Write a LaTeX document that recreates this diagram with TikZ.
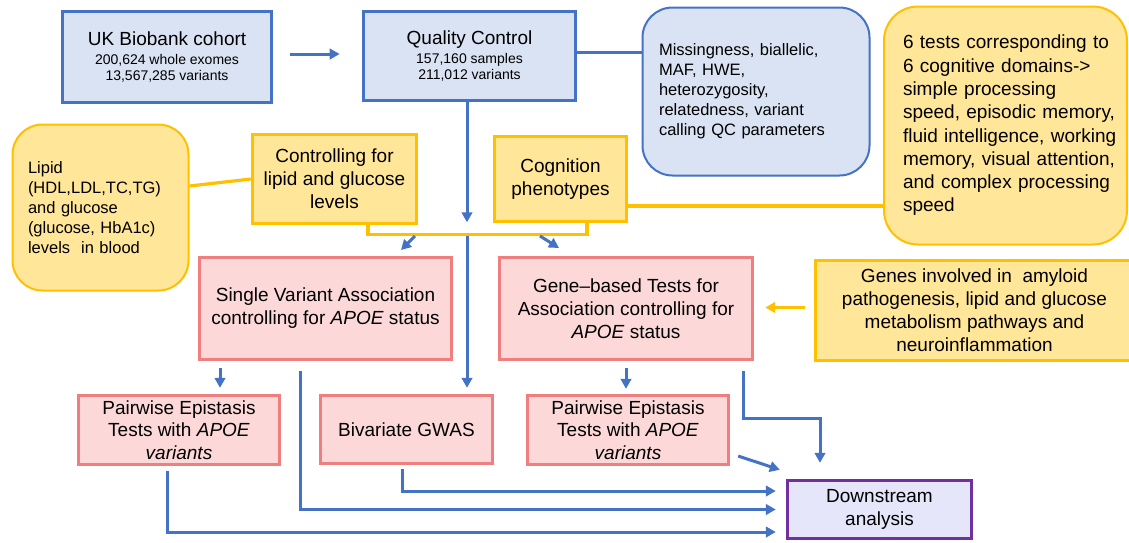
\documentclass[tikz,border=0pt]{standalone}
\usepackage{fontspec}
\setmainfont{Liberation Sans}
\usetikzlibrary{arrows.meta,calc}
\definecolor{bl}{HTML}{4472C4}
\definecolor{blfill}{HTML}{DAE3F3}
\definecolor{yl}{HTML}{FFC000}
\definecolor{yfill}{HTML}{FFE699}
\definecolor{pl}{HTML}{EE7F7E}
\definecolor{pfill}{HTML}{FCD9D8}
\definecolor{dl}{HTML}{7030A0}
\definecolor{dfill}{HTML}{E6E6FA}
\begin{document}
\begin{tikzpicture}[x=1pt,y=-1pt,
  box/.style={draw, rectangle, inner sep=0pt, align=center, font=\fontsize{19}{23}\selectfont},
  bluebox/.style={box, draw=bl, fill=blfill, line width=3.6pt},
  ybox/.style={box, draw=yl, fill=yfill, line width=3.4pt},
  pbox/.style={box, draw=pl, fill=pfill, line width=3.4pt},
  rbox/.style={draw, rectangle, rounded corners=30pt, line width=2pt, align=left, inner sep=0pt},
  arr/.style={draw=bl, line width=3pt, -{Triangle[length=10pt,width=10.5pt]}},
  bline/.style={draw=bl, line width=3pt},
  yline/.style={draw=yl, line width=3.2pt},
  yarr/.style={yline, -{Triangle[length=10pt,width=10.5pt]}},
]
\useasboundingbox (0,0) rectangle (1129,542);

% top row
\node[bluebox, minimum width=209pt, minimum height=91pt, font=\fontsize{14}{16}\selectfont] (uk) at (167,57)
  {{\fontsize{19}{20}\selectfont UK Biobank cohort}\\[3pt] 200,624 whole exomes\\ 13,567,285 variants};
\node[bluebox, minimum width=212pt, minimum height=89pt, font=\fontsize{14}{16}\selectfont] (qc) at (469.5,56)
  {{\fontsize{19}{20}\selectfont Quality Control}\\[3pt] 157,160 samples\\ 211,012 variants};
\node[rbox, draw=bl, fill=blfill, minimum width=227pt, minimum height=168pt, text width=194pt,
  font=\fontsize{16.5}{20}\selectfont] (miss) at (756,91.5)
  {Missingness, biallelic,\\ MAF, HWE,\\ heterozygosity,\\ relatedness, variant\\ calling QC parameters};
\node[rbox, draw=yl, fill=yfill, rounded corners=34pt, minimum width=243pt, minimum height=238pt, text width=205pt,
  font=\fontsize{19}{23.3}\selectfont] (cogd) at (1005.5,125.5)
  {\mbox{6 tests corresponding to}\\ \mbox{6 cognitive domains->}\\ simple processing\\ \mbox{speed, episodic memory,}\\
   \mbox{fluid intelligence, working}\\ \mbox{memory, visual attention,}\\ \mbox{and complex processing}\\ speed};

% second row
\node[rbox, draw=yl, fill=yfill, minimum width=176pt, minimum height=166pt, text width=145pt,
  font=\fontsize{16.5}{20}\selectfont] (lipid) at (100.5,207.5)
  {Lipid\\ (HDL,LDL,TC,TG)\\ and glucose\\ (glucose, HbA1c)\\ levels\ \ in blood};
\node[ybox, minimum width=164pt, minimum height=89pt] (ctrl) at (334.5,179)
  {Controlling for\\ lipid and glucose\\ levels};
\node[ybox, minimum width=132pt, minimum height=85pt] (cog) at (560.5,179)
  {Cognition\\ phenotypes};

% third row
\node[pbox, minimum width=252pt, minimum height=102pt] (sv) at (325.5,308.5)
  {Single Variant Association\\ controlling for \textit{APOE} status};
\node[pbox, minimum width=253pt, minimum height=102pt] (gb) at (626,308.5)
  {Gene–based Tests for\\ Association controlling for\\ \textit{APOE} status};
\node[ybox, minimum width=318pt, minimum height=100pt] (genes) at (974.5,310.5)
  {Genes involved in\ \ amyloid\\ pathogenesis, lipid and glucose\\ metabolism pathways and\\ neuroinflammation};

% fourth row
\node[pbox, minimum width=201pt, minimum height=69pt, font=\fontsize{19}{22.5}\selectfont] (pw1) at (179,430)
  {Pairwise Epistasis\\ Tests with \textit{APOE}\\ \textit{variants}};
\node[pbox, minimum width=172pt, minimum height=68pt] (biv) at (406.5,429.5) {Bivariate GWAS};
\node[pbox, minimum width=201pt, minimum height=69pt, font=\fontsize{19}{22.5}\selectfont] (pw2) at (628,430)
  {Pairwise Epistasis\\ Tests with \textit{APOE}\\ \textit{variants}};
\node[box, draw=dl, fill=dfill, line width=3.4pt, minimum width=184pt, minimum height=58pt] (down) at (879.5,509.5)
  {Downstream\\ analysis};

% connectors
\draw[arr, shorten <=17pt, shorten >=22pt] ([yshift=3pt]uk.east) -- ([yshift=3pt]uk.east -| qc.west);
\draw[bline] ([yshift=4pt]qc.east) -- ([yshift=4pt]qc.east -| miss.west);
\draw[arr] ([xshift=-2.5pt]qc.south) -- ++(0,120);
\coordinate (vq) at ([xshift=-2.5pt,yshift=-134pt]qc.south);
\draw[arr] (vq) -- ([yshift=6pt]vq |- biv.north);

\draw[yline] ([yshift=21.5pt]lipid.east) -- (ctrl.west);
\draw[yline] ([xshift=33.5pt]ctrl.south) -- ++(0,9) -| ([xshift=26.5pt]cog.south);
\draw[yline] ([yshift=-27pt]cog.east) -- ([yshift=-27pt]cog.east -| cogd.west);

\coordinate (b1) at (415,236);
\coordinate (b1e) at (401,250);
\coordinate (b2) at (540,236);
\coordinate (b2e) at (559,248);
\draw[arr] (b1) -- (b1e);
\draw[arr] (b2) -- (b2e);

\draw[yarr, shorten <=9pt, shorten >=11pt] ([yshift=3pt]genes.west) -- ([yshift=3pt]genes.west -| gb.east);

\draw[arr] ([xshift=-105.5pt,yshift=-7pt]sv.south) -- ([xshift=41pt,yshift=6pt]pw1.north);
\draw[arr] ([yshift=-7pt]gb.south) -- ([yshift=5pt]gb.south |- pw2.north);

\draw[arr] ([xshift=-25.5pt,yshift=-10pt]sv.south) |- ([xshift=-10pt]down.west);
\draw[arr] ([xshift=-4.5pt,yshift=-4pt]biv.south) |- ([xshift=-10pt,yshift=18.5pt]down.west);
\draw[arr] ([xshift=-12pt,yshift=-5pt]pw1.south) |- ([xshift=-10pt,yshift=-22.5pt]down.west);
\draw[arr] ([xshift=117pt,yshift=-10pt]gb.south) -- ++(0,47) -| ([xshift=-59.5pt,yshift=16pt]down.north);
\draw[arr] ([xshift=8pt,yshift=-26pt]pw2.east) -- ([xshift=-6pt,yshift=9pt]down.north west);
\end{tikzpicture}
\end{document}
